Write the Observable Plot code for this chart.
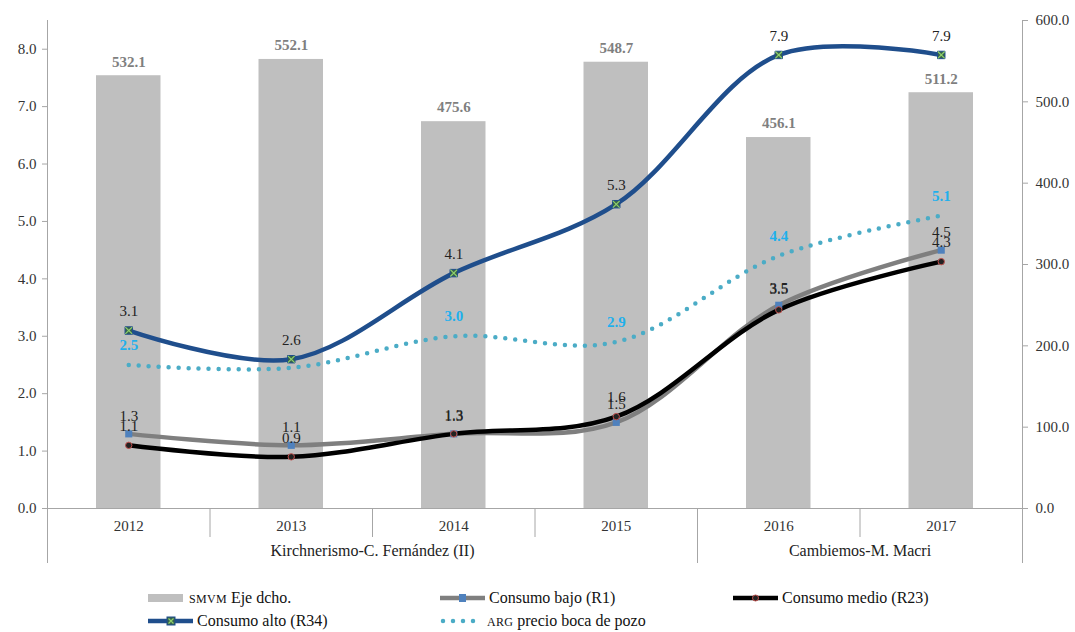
<!DOCTYPE html>
<html><head><meta charset="utf-8">
<script src="https://cdn.jsdelivr.net/npm/d3@7"></script>
<script src="https://cdn.jsdelivr.net/npm/@observablehq/plot@0.6"></script>
<style>
body{margin:0;background:#fff;font-family:"Liberation Serif","Times New Roman",serif;}
#wrap{position:relative;width:1075px;height:632px;}
#legend{position:absolute;left:0;top:588px;width:1075px;height:44px;font-size:16px;color:#111;}
.item{position:absolute;display:flex;align-items:center;height:20px;white-space:nowrap;}
.item svg{margin-right:3px;}
.sc{font-size:12px;letter-spacing:0.3px;}
</style></head><body>
<div id="wrap"><div id="chart"></div><div id="legend"></div></div>
<script>
const years = ["2012","2013","2014","2015","2016","2017"];
const smvm = [532.1, 552.1, 475.6, 548.7, 456.1, 511.2];
const consumoBajo = [1.3, 1.1, 1.3, 1.5, 3.54, 4.5];
const consumoMedio = [1.1, 0.9, 1.3, 1.6, 3.46, 4.3];
const consumoAlto = [3.1, 2.6, 4.1, 5.3, 7.9, 7.9];
const argPrecio = [2.5, 2.45, 3.0, 2.9, 4.4, 5.1];
const argShowLabel = [true, false, true, true, true, true];
const groups = [
  {name: "Kirchnerismo-C. Fernández (II)", from: "2012", to: "2015"},
  {name: "Cambiemos-M. Macri", from: "2016", to: "2017"}
];
const leftTicks = [0, 1, 2, 3, 4, 5, 6, 7, 8];
const rightTicks = [0, 100, 200, 300, 400, 500, 600];
const leftMax = 8.5, rightMax = 600;
const k = leftMax / rightMax;

const rows = years.map((y, i) => ({
  i, year: y, smvm: smvm[i], bajo: consumoBajo[i], medio: consumoMedio[i],
  alto: consumoAlto[i], arg: argPrecio[i], argLabel: argShowLabel[i]
}));
const idx = y => years.indexOf(y);
const boundaries = d3.range(years.length + 1).map(i => i - 0.5);
const groupEdges = groups.slice(0, -1).map(g => idx(g.to) + 0.5);
const innerSeps = boundaries.slice(1, -1).filter(b => !groupEdges.includes(b));
const outer = [boundaries[0], boundaries[boundaries.length - 1]];
const medioLabelY = d => +d.medio.toFixed(1);
const bajoLabelY = d => +d.bajo.toFixed(1);

const axisGray = "#a6a6a6";
const FONT = "'Liberation Serif','Times New Roman',serif";
const chart = Plot.plot({
  width: 1075, height: 585,
  marginLeft: 47, marginRight: 53, marginTop: 20, marginBottom: 77,
  style: {fontFamily: FONT, fontSize: "14px", background: "white", color: "#222"},
  x: {type: "linear", domain: [-0.5, years.length - 0.5], label: null},
  y: {domain: [0, leftMax], label: null},
  marks: [
    Plot.rectY(rows, {x1: d => d.i - 0.5, x2: d => d.i + 0.5, y: d => d.smvm * k, fill: "#bfbfbf", insetLeft: 49, insetRight: 49}),
    Plot.ruleY([0], {stroke: axisGray}),
    Plot.ruleX(outer, {x: d => d, stroke: axisGray, insetBottom: -55}),
    Plot.ruleX(innerSeps, {x: d => d, y1: 0, y2: 0, stroke: axisGray, insetBottom: -29}),
    Plot.ruleX(groupEdges, {x: d => d, y1: 0, y2: 0, stroke: axisGray, insetBottom: -55}),
    Plot.axisY(leftTicks, {anchor: "left", label: null, tickFormat: d => d.toFixed(1), tickSize: 5, tickPadding: 6, stroke: axisGray, fill: "#333", fontSize: 15}),
    Plot.axisY(rightTicks.map(v => v * k), {anchor: "right", label: null, tickFormat: v => (v / k).toFixed(1), tickSize: 5, tickPadding: 8, stroke: axisGray, fill: "#333", fontSize: 15}),
    Plot.axisX(rows.map(d => d.i), {anchor: "bottom", label: null, tickSize: 0, tickPadding: 12, tickFormat: i => years[i], fill: "#333", fontSize: 15}),
    Plot.text(groups, {x: g => (idx(g.from) + idx(g.to)) / 2, frameAnchor: "bottom", dy: 47, text: "name", fill: "#222", fontSize: 16}),
    Plot.text(rows, {x: "i", y: d => d.smvm * k, text: d => d.smvm.toFixed(1), dy: -14, fill: "#7f7f7f", fontWeight: "bold", fontSize: 15}),
    Plot.line(rows, {x: "i", y: "arg", curve: "catmull-rom", stroke: "#4bacc6", strokeWidth: 4.5, strokeDasharray: "0,10", strokeLinecap: "round"}),
    Plot.line(rows, {x: "i", y: "bajo", curve: "catmull-rom", stroke: "#7f7f7f", strokeWidth: 4.5}),
    Plot.line(rows, {x: "i", y: "medio", curve: "catmull-rom", stroke: "#000", strokeWidth: 4.5}),
    Plot.line(rows, {x: "i", y: "alto", curve: "catmull-rom", stroke: "#1f4e8c", strokeWidth: 4.5}),
    Plot.dot(rows, {x: "i", y: "bajo", symbol: "square", r: 4, fill: "#4f81bd"}),
    Plot.dot(rows, {x: "i", y: "medio", symbol: "circle", r: 3.2, fill: "#222", stroke: "#c0504d", strokeWidth: 1}),
    Plot.dot(rows, {x: "i", y: "alto", symbol: "square", r: 4.2, fill: "#35614f", stroke: "#1f4e8c", strokeWidth: 1}),
    Plot.dot(rows, {x: "i", y: "alto", symbol: "times", r: 3.2, stroke: "#8fd16a", strokeWidth: 1.2}),
    Plot.text(rows, {x: "i", y: "alto", text: d => d.alto.toFixed(1), dy: -19, fill: "#222", fontSize: 15}),
    Plot.text(rows, {x: "i", y: bajoLabelY, text: d => d.bajo.toFixed(1), dy: -18, fill: "#222", fontSize: 15}),
    Plot.text(rows, {x: "i", y: medioLabelY, text: d => d.medio.toFixed(1), dy: -19, fill: "#222", fontSize: 15}),
    Plot.text(rows.filter(d => d.argLabel), {x: "i", y: "arg", text: d => d.arg.toFixed(1), dy: -20, fill: "#1fb0ec", fontWeight: "bold", fontSize: 15})
  ]
});
document.getElementById("chart").appendChild(chart);

const legendItems = [
  {x: 148, y: 0, label: '<span class="sc">SMVM</span>&nbsp;Eje dcho.', sw: `<svg width="38" height="12"><rect x="0" y="2" width="35" height="8" fill="#bfbfbf"/></svg>`},
  {x: 440, y: 0, label: 'Consumo bajo (R1)', sw: `<svg width="46" height="12"><line x1="0" x2="45" y1="6" y2="6" stroke="#7f7f7f" stroke-width="4.5"/><rect x="19" y="2" width="7" height="8" fill="#4f81bd"/></svg>`},
  {x: 733, y: 0, label: 'Consumo medio (R23)', sw: `<svg width="46" height="12"><line x1="0" x2="45" y1="6" y2="6" stroke="#000" stroke-width="4.5"/><circle cx="22.5" cy="6" r="3" fill="#222" stroke="#c0504d"/></svg>`},
  {x: 148, y: 23, label: 'Consumo alto (R34)', sw: `<svg width="46" height="12"><line x1="0" x2="45" y1="6" y2="6" stroke="#1f4e8c" stroke-width="4.5"/><rect x="19" y="2" width="8" height="8" fill="#35614f" stroke="#1f4e8c"/><path d="M20.5,3.5L25.5,8.5M25.5,3.5L20.5,8.5" stroke="#8fd16a" stroke-width="1.2"/></svg>`},
  {x: 440, y: 23, label: '<span class="sc">ARG</span>&nbsp;precio boca de pozo', sw: `<svg width="44" height="12"><line x1="3" x2="36" y1="6" y2="6" stroke="#4bacc6" stroke-width="4.5" stroke-dasharray="0,10" stroke-linecap="round"/></svg>`}
];
const leg = document.getElementById("legend");
for (const it of legendItems) {
  const d = document.createElement("div");
  d.className = "item";
  d.style.left = it.x + "px";
  d.style.top = it.y + "px";
  d.innerHTML = it.sw + "<span>" + it.label + "</span>";
  leg.appendChild(d);
}
</script>
</body></html>
